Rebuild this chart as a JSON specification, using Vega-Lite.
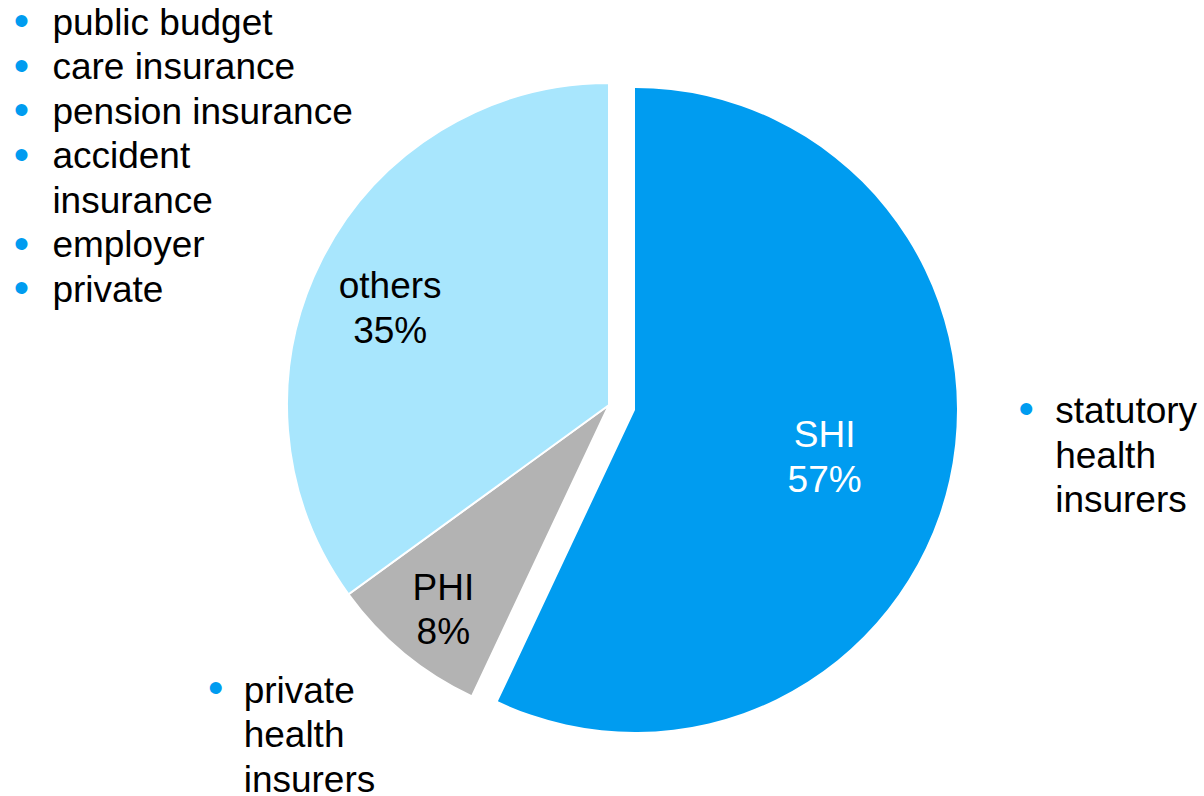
{
  "$schema": "https://vega.github.io/schema/vega-lite/v6.json",
  "autosize": {"type": "none"},
  "width": 1190,
  "height": 782,
  "padding": {"left": 14, "top": 14, "right": 0, "bottom": 0},
  "background": "white",
  "config": {"view": {"stroke": null}, "text": {"font": "Liberation Sans"}},
  "data": {
    "values": [
      {"category": "SHI", "rank": 1, "share": 57, "label": "SHI\n57%", "note": "statutory\nhealth\ninsurers", "bullets": "•"},
      {"category": "PHI", "rank": 2, "share": 8, "label": "PHI\n8%", "note": "private\nhealth\ninsurers", "bullets": "•"},
      {"category": "others", "rank": 3, "share": 35, "label": "others\n35%", "note": "public budget\ncare insurance\npension insurance\naccident\ninsurance\nemployer\nprivate", "bullets": "•\n•\n•\n•\n\u200b\n•\n•"}
    ]
  },
  "encoding": {
    "theta": {"field": "share", "type": "quantitative", "stack": true},
    "order": {"field": "rank", "type": "quantitative"},
    "detail": {"field": "category", "type": "nominal"}
  },
  "layer": [
    {
      "mark": {"type": "arc", "outerRadius": 322, "stroke": "white", "strokeWidth": 2},
      "encoding": {
        "color": {"field": "category", "type": "nominal", "scale": {"domain": ["SHI", "PHI", "others"], "range": ["#009CF0", "#B3B3B3", "#A8E6FD"]}, "legend": null},
        "opacity": {"condition": {"test": "datum.category === 'SHI'", "value": 0}, "value": 1}
      }
    },
    {
      "mark": {"type": "arc", "outerRadius": 322, "xOffset": 26, "yOffset": 5},
      "encoding": {
        "color": {"field": "category", "type": "nominal", "scale": {"domain": ["SHI", "PHI", "others"], "range": ["#009CF0", "#B3B3B3", "#A8E6FD"]}, "legend": null},
        "opacity": {"condition": {"test": "datum.category === 'SHI'", "value": 1}, "value": 0}
      }
    },
    {
      "mark": {"type": "text", "radius": 240, "dx": -5, "dy": -9, "fontSize": 37, "lineHeight": 44.5, "lineBreak": "\n", "align": "center", "baseline": "middle", "fill": "black"},
      "encoding": {"text": {"condition": {"test": "datum.category === 'others'", "field": "label"}, "value": ""}}
    },
    {
      "mark": {"type": "text", "radius": 263, "dx": 2, "dy": -19, "fontSize": 37, "lineHeight": 44.5, "lineBreak": "\n", "align": "center", "baseline": "middle", "fill": "black"},
      "encoding": {"text": {"condition": {"test": "datum.category === 'PHI'", "field": "label"}, "value": ""}}
    },
    {
      "mark": {"type": "text", "radius": 222, "dx": -1, "dy": -17, "fontSize": 37, "lineHeight": 44.5, "lineBreak": "\n", "align": "center", "baseline": "middle", "fill": "white"},
      "encoding": {"text": {"condition": {"test": "datum.category === 'SHI'", "field": "label"}, "value": ""}}
    },
    {
      "mark": {"type": "text", "radius": 600, "dx": -22, "dy": -109, "fontSize": 37, "lineHeight": 44.5, "lineBreak": "\n", "align": "left", "baseline": "middle", "fill": "black"},
      "encoding": {"text": {"condition": {"test": "datum.category === 'others'", "field": "note"}, "value": ""}}
    },
    {
      "mark": {"type": "text", "radius": 450, "dx": 7, "dy": -91, "fontSize": 37, "lineHeight": 44.5, "lineBreak": "\n", "align": "left", "baseline": "middle", "fill": "black"},
      "encoding": {"text": {"condition": {"test": "datum.category === 'SHI'", "field": "note"}, "value": ""}}
    },
    {
      "mark": {"type": "text", "radius": 490, "dx": -53, "dy": -91, "fontSize": 37, "lineHeight": 44.5, "lineBreak": "\n", "align": "left", "baseline": "middle", "fill": "black"},
      "encoding": {"text": {"condition": {"test": "datum.category === 'PHI'", "field": "note"}, "value": ""}}
    },
    {
      "mark": {"type": "text", "radius": 600, "dx": -53, "dy": -109.5, "fontSize": 44, "lineHeight": 44.5, "lineBreak": "\n", "align": "center", "baseline": "middle", "fill": "#009CF0"},
      "encoding": {"text": {"condition": {"test": "datum.category === 'others'", "field": "bullets"}, "value": ""}}
    },
    {
      "mark": {"type": "text", "radius": 450, "dx": -22, "dy": -92.5, "fontSize": 44, "lineHeight": 44.5, "lineBreak": "\n", "align": "center", "baseline": "middle", "fill": "#009CF0"},
      "encoding": {"text": {"condition": {"test": "datum.category === 'SHI'", "field": "bullets"}, "value": ""}}
    },
    {
      "mark": {"type": "text", "radius": 490, "dx": -81, "dy": -92.5, "fontSize": 44, "lineHeight": 44.5, "lineBreak": "\n", "align": "center", "baseline": "middle", "fill": "#009CF0"},
      "encoding": {"text": {"condition": {"test": "datum.category === 'PHI'", "field": "bullets"}, "value": ""}}
    }
  ]
}
